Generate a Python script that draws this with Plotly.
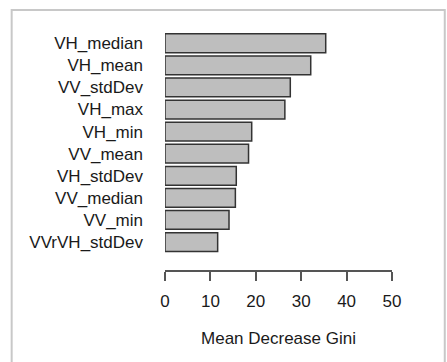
import plotly.graph_objects as go

categories = ["VH_median", "VH_mean", "VV_stdDev", "VH_max", "VH_min",
              "VV_mean", "VH_stdDev", "VV_median", "VV_min", "VVrVH_stdDev"]
values = [35.4, 32.1, 27.6, 26.4, 19.1, 18.4, 15.7, 15.5, 14.1, 11.6]
x_ticks = [0, 10, 20, 30, 40, 50]
x_title = "Mean Decrease Gini"

font_family = "Liberation Sans, Arial, sans-serif"
text_color = "#1a1a1a"

fig = go.Figure(go.Bar(
    y=categories, x=values, orientation="h",
    marker=dict(color="#bebebe", line=dict(color="#333333", width=1.5)),
    hoverinfo="skip",
))

W, H = 447, 362
L, R = 164.5, 392.5
T, B = 29.5, 270.0
pw, ph = R - L, B - T

fig.update_layout(
    width=W, height=H,
    margin=dict(l=L, r=W - R, t=T, b=H - B, pad=0),
    paper_bgcolor="white", plot_bgcolor="white",
    bargap=0.15,
    showlegend=False,
    font=dict(family=font_family, size=17, color=text_color),
    xaxis=dict(
        range=[0, 50], tickvals=x_ticks, showgrid=False, zeroline=False,
        showline=True, linecolor="#555555", linewidth=1.5,
        ticks="outside", ticklen=9, tickwidth=1.5, tickcolor="#555555",
        ticklabelstandoff=6,
        title=dict(text=x_title, standoff=22, font=dict(size=17)),
        fixedrange=True,
    ),
    yaxis=dict(
        type="category", categoryorder="array", categoryarray=categories,
        range=[10.265, -0.6], showgrid=False, zeroline=False, showline=False,
        ticks="", ticklabelstandoff=21, fixedrange=True,
    ),
    shapes=[dict(
        type="rect", xref="paper", yref="paper",
        x0=(10.5 - L) / pw, x1=(445.5 - L) / pw,
        y0=(B - 420) / ph, y1=(B - 9.5) / ph,
        line=dict(color="#c8c8c8", width=2), fillcolor="rgba(0,0,0,0)",
        layer="below",
    )],
)

fig.write_html("out.html", config={"displayModeBar": False})
